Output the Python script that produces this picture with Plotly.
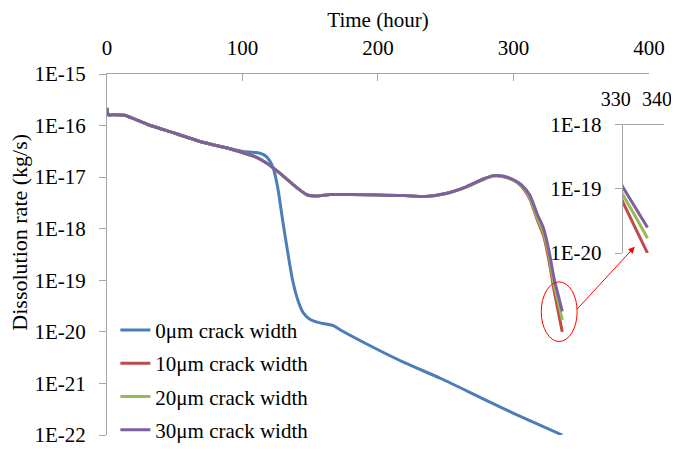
import plotly.graph_objects as go

# time (hour) for the cracked cases (10, 20, 30 um)
t_crack = [0, 1, 5, 13, 30, 50, 70, 90, 100, 110, 118, 125, 132, 140, 148, 155,
           165, 180, 200, 220, 235, 250, 265, 278, 285, 292, 300, 306, 312, 318,
           322, 326, 330, 333, 336]

rate_30um = [2.19e-16, 1.62e-16, 1.62e-16, 1.58e-16, 1.05e-16, 7.1e-17, 4.8e-17,
             3.6e-17, 3.0e-17, 2.45e-17, 1.86e-17, 1.35e-17, 9.5e-18, 6.3e-18,
             4.5e-18, 4.3e-18, 4.6e-18, 4.6e-18, 4.5e-18, 4.4e-18, 4.2e-18,
             4.8e-18, 6.5e-18, 9.3e-18, 1.07e-17, 1.05e-17, 8.9e-18, 7.1e-18,
             4.5e-18, 1.8e-18, 1.05e-18, 4.0e-19, 1.07e-19, 5.2e-20, 2.5e-20]

rate_20um = [2.19e-16, 1.62e-16, 1.62e-16, 1.58e-16, 1.05e-16, 7.1e-17, 4.8e-17,
             3.6e-17, 3.0e-17, 2.45e-17, 1.86e-17, 1.35e-17, 9.5e-18, 6.3e-18,
             4.5e-18, 4.3e-18, 4.6e-18, 4.6e-18, 4.5e-18, 4.4e-18, 4.2e-18,
             4.8e-18, 6.4e-18, 9.1e-18, 1.05e-17, 1.03e-17, 8.7e-18, 6.8e-18,
             4.0e-18, 1.5e-18, 8.5e-19, 3.2e-19, 8.1e-20, 3.8e-20, 1.7e-20]

rate_10um = [2.19e-16, 1.62e-16, 1.62e-16, 1.58e-16, 1.05e-16, 7.1e-17, 4.8e-17,
             3.6e-17, 3.0e-17, 2.45e-17, 1.86e-17, 1.35e-17, 9.5e-18, 6.3e-18,
             4.5e-18, 4.3e-18, 4.6e-18, 4.6e-18, 4.5e-18, 4.4e-18, 4.2e-18,
             4.8e-18, 6.4e-18, 9.1e-18, 1.05e-17, 1.03e-17, 8.7e-18, 6.6e-18,
             3.8e-18, 1.38e-18, 7.6e-19, 2.6e-19, 6.3e-20, 2.5e-20, 1.0e-20]

# time (hour) for the uncracked case
t_nocrack = [0, 1, 5, 13, 30, 50, 70, 90, 100, 110, 116, 120, 123, 126, 130, 134,
             137, 141, 145, 150, 158, 167, 172, 200, 220, 246, 270, 290, 310, 336]

rate_0um = [2.19e-16, 1.62e-16, 1.62e-16, 1.58e-16, 1.05e-16, 7.1e-17, 4.8e-17,
            3.6e-17, 3.16e-17, 3.0e-17, 2.7e-17, 2.1e-17, 1.41e-17, 6.3e-18,
            1.26e-18, 2.8e-19, 1.0e-19, 4.0e-20, 2.3e-20, 1.74e-20, 1.48e-20,
            1.32e-20, 1.1e-20, 4.5e-21, 2.5e-21, 1.26e-21, 6.3e-22, 3.5e-22,
            2.0e-22, 1.0e-22]

main_ticks = [1e-22, 1e-21, 1e-20, 1e-19, 1e-18, 1e-17, 1e-16, 1e-15]
main_labels = ["1E-22", "1E-21", "1E-20", "1E-19", "1E-18", "1E-17", "1E-16", "1E-15"]
inset_ticks = [1e-20, 1e-19, 1e-18]
inset_labels = ["1E-20", "1E-19", "1E-18"]

series = [
    ("0\u03bcm crack width", t_nocrack, rate_0um, "#4A7EBB"),
    ("10\u03bcm crack width", t_crack, rate_10um, "#BE4B48"),
    ("20\u03bcm crack width", t_crack, rate_20um, "#98B954"),
    ("30\u03bcm crack width", t_crack, rate_30um, "#7D60A0"),
]

FONT = "Liberation Serif"
GRAY = "#A6A6A6"
FS = 21

fig = go.Figure()
for name, t, r, color in series:
    fig.add_trace(go.Scatter(
        x=t, y=r, name=name, mode="lines", legendgroup=name,
        line=dict(color=color, width=3, shape="spline", smoothing=0.6),
        xaxis="x", yaxis="y",
    ))
# zoomed view of the tail
for name, t, r, color in series[1:]:
    fig.add_trace(go.Scatter(
        x=t, y=r, mode="lines", showlegend=False,
        line=dict(color=color, width=3),
        xaxis="x2", yaxis="y2",
    ))

axis_common = dict(showgrid=False, zeroline=False, showline=True, automargin=False,
                   linecolor=GRAY, linewidth=1, tickcolor=GRAY, ticklen=7,
                   ticklabeloverflow="allow",
                   tickfont=dict(family=FONT, size=FS, color="black"))

# page body has an 8px margin, so the figure is a bit smaller than the window
fig.update_layout(
    width=671, height=442,
    margin=dict(l=99, r=15, t=66, b=15, autoexpand=False),
    paper_bgcolor="white", plot_bgcolor="rgba(0,0,0,0)",
    font=dict(family=FONT, size=FS, color="black"),
    xaxis=dict(domain=[0, 0.973], range=[0, 400], side="top", anchor="y",
               ticks="inside", tickvals=[0, 100, 200, 300, 400],
               ticklabelstandoff=10,
               title=dict(text="Time (hour)", standoff=8,
                          font=dict(family=FONT, size=FS)),
               **axis_common),
    yaxis=dict(domain=[0, 1], type="log", range=[-22, -15], anchor="x",
               ticks="outside", tickvals=main_ticks, ticktext=main_labels,
               ticklabelstandoff=9, **axis_common),
    xaxis2=dict(domain=[0.926, 1.0], range=[330, 340], side="top", anchor="y2",
                ticks="inside", tickvals=[330, 340], ticklabelstandoff=10,
                ticklabelshift=-7, **axis_common),
    yaxis2=dict(domain=[0.504, 0.859], type="log", range=[-20, -18], anchor="x2",
                ticks="outside", tickvals=inset_ticks, ticktext=inset_labels,
                ticklabelstandoff=9, **axis_common),
    legend=dict(x=0.015, y=0.347, xanchor="left", yanchor="top",
                bgcolor="rgba(0,0,0,0)", tracegroupgap=3,
                font=dict(family=FONT, size=FS, color="black")),
    showlegend=True,
)
fig.update_xaxes(tickfont_size=20, selector=dict(anchor="y2"))

# y-axis title placed to match the reference
fig.add_annotation(
    text="Dissolution rate (kg/s)", textangle=-90, showarrow=False,
    xref="paper", yref="paper", x=-0.157, y=0.562, xanchor="center", yanchor="middle",
    font=dict(family=FONT, size=22, color="black"),
)

# red ellipse marking the tail, with arrow to the inset
fig.add_shape(type="circle", xref="x", yref="y",
              x0=320.5, x1=347, y0=6.5e-21, y1=9.3e-20,
              line=dict(color="red", width=1))
fig.add_annotation(
    xref="x2", yref="y2", x=332.9, y=-19.9, ax=-59, ay=64,
    text="", showarrow=True, arrowhead=2, arrowsize=1.3, arrowwidth=1,
    arrowcolor="red",
)

fig.write_html("out.html")
